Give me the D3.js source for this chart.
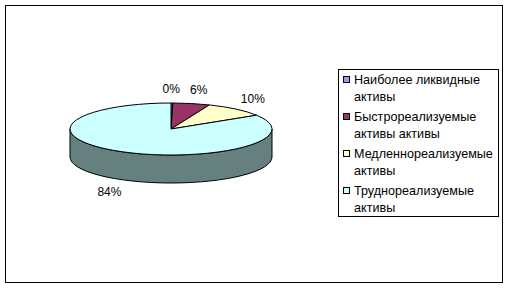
<!DOCTYPE html>
<html>
<head>
<meta charset="utf-8">
<script src="https://cdn.jsdelivr.net/npm/d3@7"></script>
<style>
  body { margin: 0; background: #fff; }
  text { font-family: Arial, 'Liberation Sans', sans-serif; font-size: 12px; fill: #000; }
  .legend text { font-size: 12.6px; }
</style>
</head>
<body>
<svg id="viz" width="509" height="288"></svg>
<script>
const categories = [
  'Наиболее ликвидные активы',
  'Быстрореализуемые активы активы',
  'Медленнореализуемые активы',
  'Труднореализуемые активы'
];
const values = [0.3, 5.9, 9.9, 83.9];
const colors = ['#9999FF', '#993366', '#FFFFCC', '#CCFFFF'];
const sideColors = ['#4D4D80', '#4D1A33', '#808066', '#668080'];

const svg = d3.select('#viz');

// outer frame
svg.append('rect')
  .attr('x', 5.5).attr('y', 5.5)
  .attr('width', 497).attr('height', 277)
  .attr('fill', '#fff').attr('stroke', '#000');

const cx = 171, cy = 129, rx = 101, ry = 26, depth = 28;

const total = d3.sum(values);
const arcs = d3.pie().sort(null).startAngle(0).endAngle(2 * Math.PI)(values);

const pt = (a, dy = 0) => [cx + rx * Math.sin(a), cy - ry * Math.cos(a) + dy];

const g = svg.append('g');

// SIDES (front half only)
arcs.forEach((d, i) => {
  const b0 = Math.max(d.startAngle, Math.PI / 2);
  const b1 = Math.min(d.endAngle, 3 * Math.PI / 2);
  if (b1 <= b0) return;
  const p0 = pt(b0), p1 = pt(b1), q1 = pt(b1, depth), q0 = pt(b0, depth);
  const large = b1 - b0 > Math.PI ? 1 : 0;
  const path = `M${p0}A${rx},${ry} 0 ${large} 1 ${p1}L${q1}A${rx},${ry} 0 ${large} 0 ${q0}Z`;
  g.append('path')
    .attr('d', path)
    .attr('fill', sideColors[i])
    .attr('stroke', '#000')
    .attr('stroke-width', 1)
    .attr('stroke-linejoin', 'round');
});

// TOPS
arcs.forEach((d, i) => {
  if (d.endAngle - d.startAngle <= 0) return;
  const p0 = pt(d.startAngle), p1 = pt(d.endAngle);
  const large = d.endAngle - d.startAngle > Math.PI ? 1 : 0;
  const path = `M${cx},${cy}L${p0}A${rx},${ry} 0 ${large} 1 ${p1}Z`;
  g.append('path')
    .attr('d', path)
    .attr('fill', colors[i])
    .attr('stroke', '#000')
    .attr('stroke-width', 1)
    .attr('stroke-linejoin', 'round');
});

// LABELS
const lrx = rx + 26, lry = ry + 14;
arcs.forEach((d, i) => {
  const a = (d.startAngle + d.endAngle) / 2;
  let x = cx + lrx * Math.sin(a);
  let y = cy - lry * Math.cos(a) + (Math.cos(a) < 0 ? depth : 0);
  if (i === 0) x -= 1;
  if (i === 1) x += 2;
  g.append('text')
    .attr('x', x)
    .attr('y', y)
    .attr('dy', '0.35em')
    .attr('text-anchor', 'middle')
    .text(Math.round(d.value / total * 100) + '%');
});

// LEGEND
const legend = svg.append('g').attr('class', 'legend');
legend.append('rect')
  .attr('x', 338.5).attr('y', 69.5)
  .attr('width', 160).attr('height', 147)
  .attr('fill', '#fff').attr('stroke', '#000');

const maxW = 146;
categories.forEach((c, i) => {
  const top = 80 + i * 37;
  legend.append('rect')
    .attr('x', 343.5).attr('y', top - 3.5)
    .attr('width', 6).attr('height', 6)
    .attr('fill', colors[i]).attr('stroke', '#000');
  const t = legend.append('text').attr('x', 354).attr('y', top).attr('dy', '0.35em');
  const words = c.split(' ');
  let line = [];
  let tspan = t.append('tspan').attr('x', 354);
  words.forEach((w) => {
    line.push(w);
    tspan.text(line.join(' '));
    if (tspan.node().getComputedTextLength() > maxW && line.length > 1) {
      line.pop();
      tspan.text(line.join(' '));
      line = [w];
      tspan = t.append('tspan').attr('x', 354).attr('dy', 17).text(w);
    }
  });
});
</script>
</body>
</html>
